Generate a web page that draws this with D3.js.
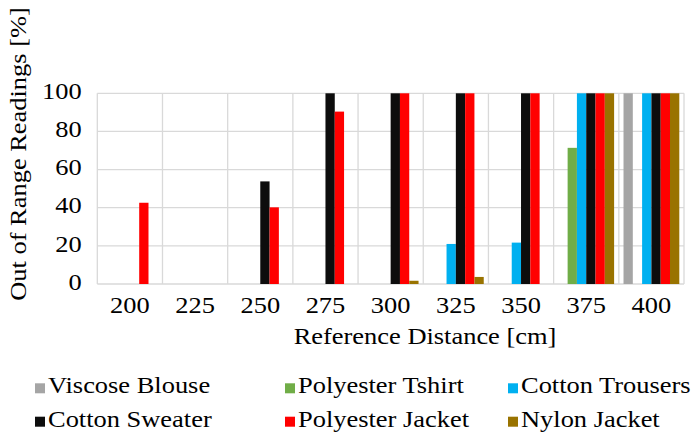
<!DOCTYPE html>
<html>
<head>
<meta charset="utf-8">
<script src="https://cdn.jsdelivr.net/npm/d3@7"></script>
</head>
<body style="margin:0">
<svg id="chart" width="699" height="436"></svg>
<script>
const distances = ["200", "225", "250", "275", "300", "325", "350", "375", "400"];
const seriesNames = ["Viscose Blouse", "Polyester Tshirt", "Cotton Trousers", "Cotton Sweater", "Polyester Jacket", "Nylon Jacket"];
const seriesColors = ["#a5a5a5", "#70ad47", "#00b0f0", "#0d0d0d", "#ff0000", "#997300"];

const viscoseBlouse   = [0, 0, 0, 0, 0, 0, 0, 0, 100];
const polyesterTshirt = [0, 0, 0, 0, 0, 0, 0, 71.4, 0];
const cottonTrousers  = [0, 0, 0, 0, 0, 21, 21.7, 100, 100];
const cottonSweater   = [0, 0, 53.8, 100, 100, 100, 100, 100, 100];
const polyesterJacket = [42.6, 0, 40.2, 90.4, 100, 100, 100, 100, 100];
const nylonJacket     = [0, 0, 0, 0, 1.7, 3.7, 0, 100, 100];
const yTicks = [0, 20, 40, 60, 80, 100];

const seriesValues = [viscoseBlouse, polyesterTshirt, cottonTrousers, cottonSweater, polyesterJacket, nylonJacket];

const FONT = "Liberation Serif";
const FS = 23;
const SX = 1.15;   // reference serif runs wider than Liberation Serif

const W = 699, H = 436;
const margin = { top: 93.3, right: 15, bottom: 152, left: 97.3 };
const width = W - margin.left - margin.right;
const height = H - margin.top - margin.bottom;

const svg = d3.select("#chart");

// text placed at (x,y), optionally rotated, stretched along its direction
function label(parent, x, y, str, anchor, rot) {
  return parent.append("text")
    .attr("transform", `translate(${x},${y})${rot ? ` rotate(${rot})` : ""} scale(${SX},1)`)
    .attr("text-anchor", anchor || "start")
    .attr("font-family", FONT)
    .attr("font-size", FS)
    .text(str);
}

const g = svg.append("g")
  .attr("transform", `translate(${margin.left},${margin.top})`);

const x0 = d3.scaleBand().domain(distances).range([0, width]);
const x1 = d3.scaleBand().domain(seriesNames).range([4.7, x0.bandwidth() - 4.7]);
const y = d3.scaleLinear().domain([0, 100]).range([height, 0]);

// grid
g.append("g")
  .selectAll("line")
  .data(yTicks)
  .join("line")
  .attr("x1", 0).attr("x2", width)
  .attr("y1", d => y(d)).attr("y2", d => y(d))
  .attr("stroke", "#d9d9d9").attr("stroke-width", 1.3);

g.append("g")
  .selectAll("line")
  .data(d3.range(distances.length + 1))
  .join("line")
  .attr("x1", i => i * x0.step()).attr("x2", i => i * x0.step())
  .attr("y1", 0).attr("y2", height)
  .attr("stroke", "#d9d9d9").attr("stroke-width", 1.3);

// bars
const groups = g.append("g")
  .selectAll("g")
  .data(distances)
  .join("g")
  .attr("transform", d => `translate(${x0(d)},0)`);

groups.selectAll("rect")
  .data((d, i) => seriesNames.map((s, k) => ({ s, v: seriesValues[k][i], c: seriesColors[k] })))
  .join("rect")
  .filter(d => d.v > 0)
  .attr("x", d => x1(d.s))
  .attr("width", x1.bandwidth())
  .attr("y", d => y(d.v))
  .attr("height", d => y(0) - y(d.v))
  .attr("fill", d => d.c);

// axes
const xAxis = g.append("g")
  .attr("transform", `translate(0,${height})`)
  .call(d3.axisBottom(x0).tickSize(0));
xAxis.select(".domain").remove();
xAxis.selectAll("text")
  .attr("font-family", FONT)
  .attr("font-size", FS)
  .attr("x", 0).attr("y", 0).attr("dy", null)
  .attr("transform", `translate(0,${313.3 - margin.top - height}) scale(${SX},1)`);

const yAxis = g.append("g")
  .call(d3.axisLeft(y).tickValues(yTicks).tickSize(0));
yAxis.select(".domain").remove();
yAxis.selectAll("text")
  .attr("font-family", FONT)
  .attr("font-size", FS)
  .attr("x", 0).attr("y", 0).attr("dy", null)
  .attr("transform", `translate(${81.7 - margin.left},5.2) scale(${SX},1)`);

label(svg, 425, 344.3, "Reference Distance [cm]", "middle");
label(svg, 26, 154, "Out of Range Readings [%]", "middle", -90);

// legend
const legendCols = [35, 285, 508];
const legendRows = [393.3, 426.7];
seriesNames.forEach((name, i) => {
  const lx = legendCols[i % 3], ly = legendRows[Math.floor(i / 3)];
  svg.append("rect")
    .attr("x", lx).attr("y", ly - 10)
    .attr("width", 10).attr("height", 10)
    .attr("fill", seriesColors[i]);
  label(svg, lx + 13, ly, name, "start");
});
</script>
</body>
</html>
